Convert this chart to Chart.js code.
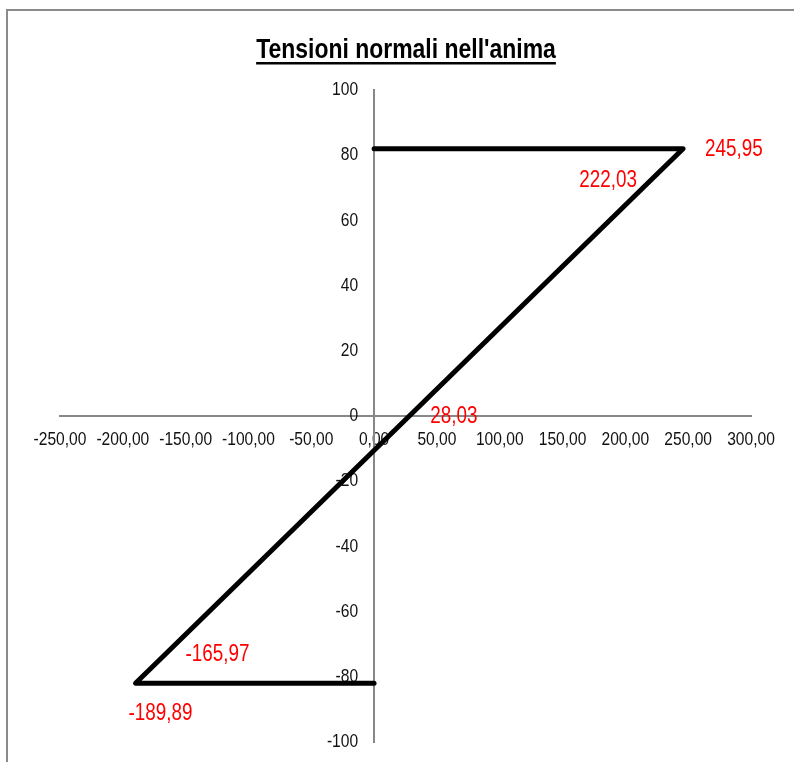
<!DOCTYPE html>
<html><head><meta charset="utf-8">
<script src="https://cdn.jsdelivr.net/npm/chart.js@4"></script>
<style>html,body{margin:0;padding:0;background:#fff}canvas{display:block}</style>
</head><body>
<canvas id="c" width="794" height="762"></canvas>
<script>
// ---- data ----
const titleText = "Tensioni normali nell'anima";
const xValues = [0, 245.95, 222.03, 28.03, -165.97, -189.89, 0];
const yValues = [82, 82, 73, 0, -73, -82, -82];
const pointLabels = ['', '245,95', '222,03', '28,03', '-165,97', '-189,89', ''];
const xTickValues = [-250, -200, -150, -100, -50, 0, 50, 100, 150, 200, 250, 300];
const yTickValues = [-100, -80, -60, -40, -20, 0, 20, 40, 60, 80, 100];

// ---- styles ----
const FONT = "'Liberation Sans', Arial, sans-serif";
const NARROW = 0.82; // emulate Arial Narrow (horizontally condensed Arial)
const labelPlacement = {
  1: {align: 'left', dx: 22, dy: 1},
  2: {align: 'right', dx: -16, dy: 3},
  3: {align: 'left', dx: 21, dy: 1},
  4: {align: 'left', dx: 20, dy: 1},
  5: {align: 'center', dx: 25, dy: 30}
};

const canvas = document.getElementById('c');
const ctx0 = canvas.getContext('2d');
const origFillText = CanvasRenderingContext2D.prototype.fillText;
ctx0.fillText = function (text, x, y, maxWidth) {
  this.save();
  this.translate(x, y);
  this.scale(NARROW, 1);
  if (maxWidth !== undefined && maxWidth !== null && isFinite(maxWidth)) {
    origFillText.call(this, text, 0, 0, maxWidth / NARROW);
  } else {
    origFillText.call(this, text, 0, 0);
  }
  this.restore();
};

const points = xValues.map((x, i) => ({x: x, y: yValues[i]}));

const decorPlugin = {
  id: 'decor',
  beforeDraw(chart) {
    const ctx = chart.ctx;
    ctx.save();
    ctx.strokeStyle = '#8a8a8a';
    ctx.lineWidth = 2;
    ctx.strokeRect(7, 10, 900, 900);
    ctx.restore();
    // place tick labels next to the crossing axes
    const xs = chart.scales.x, ys = chart.scales.y;
    const x0 = xs.getPixelForValue(0), y0 = ys.getPixelForValue(0);
    xs.getLabelItems(chart.chartArea).forEach(it => {
      it.options.translation[1] = y0 + 24;
      it.options.textBaseline = 'middle';
      it.options.textAlign = 'center';
      it.textOffset = 0;
    });
    ys.getLabelItems(chart.chartArea).forEach(it => {
      it.options.translation[0] = x0 - 16;
      it.options.textBaseline = 'middle';
      it.options.textAlign = 'right';
      it.textOffset = 0;
    });
  },
  afterDraw(chart) {
    const ctx = chart.ctx;
    ctx.save();
    // title
    ctx.font = "bold 28px " + FONT;
    ctx.fillStyle = '#000';
    ctx.textAlign = 'center';
    ctx.textBaseline = 'alphabetic';
    const tx = 406, ty = 58;
    ctx.fillText(titleText, tx, ty);
    const w = ctx.measureText(titleText).width * NARROW;
    ctx.fillRect(tx - w / 2, 62, w, 2.5);
    // point labels
    const meta = chart.getDatasetMeta(0);
    ctx.font = "23px " + FONT;
    ctx.fillStyle = '#ff0000';
    ctx.textBaseline = 'middle';
    meta.data.forEach((el, i) => {
      const p = labelPlacement[i];
      if (!p || !pointLabels[i]) return;
      ctx.textAlign = p.align;
      ctx.fillText(pointLabels[i], el.x + p.dx, el.y + p.dy);
    });
    ctx.restore();
  }
};

new Chart(canvas, {
  type: 'scatter',
  data: {
    datasets: [{
      data: points,
      showLine: true,
      borderColor: '#000',
      borderWidth: 5,
      borderJoinStyle: 'round',
      borderCapStyle: 'round',
      pointRadius: 0,
      pointHoverRadius: 0,
      tension: 0,
      clip: false
    }]
  },
  options: {
    responsive: false,
    animation: false,
    devicePixelRatio: 1,
    events: [],
    layout: {padding: {left: 60, right: 43, top: 90, bottom: 20}},
    plugins: {legend: {display: false}, tooltip: {enabled: false}, title: {display: false}},
    scales: {
      x: {
        type: 'linear',
        position: {y: 0},
        min: xTickValues[0],
        max: xTickValues[xTickValues.length - 1],
        afterBuildTicks(scale) { scale.ticks = xTickValues.map(v => ({value: v})); },
        grid: {display: false, drawTicks: false},
        border: {display: true, color: '#888888', width: 2},
        ticks: {
          padding: 0,
          color: '#111',
          font: {family: FONT, size: 19},
          maxRotation: 0,
          autoSkip: false,
          callback: v => v.toFixed(2).replace('.', ',')
        }
      },
      y: {
        type: 'linear',
        position: {x: 0},
        min: yTickValues[0],
        max: yTickValues[yTickValues.length - 1],
        afterBuildTicks(scale) { scale.ticks = yTickValues.map(v => ({value: v})); },
        grid: {display: false, drawTicks: false},
        border: {display: true, color: '#888888', width: 2},
        ticks: {
          padding: 0,
          color: '#111',
          font: {family: FONT, size: 19},
          autoSkip: false,
          callback: v => String(v)
        }
      }
    }
  },
  plugins: [decorPlugin]
});
</script>
</body></html>
